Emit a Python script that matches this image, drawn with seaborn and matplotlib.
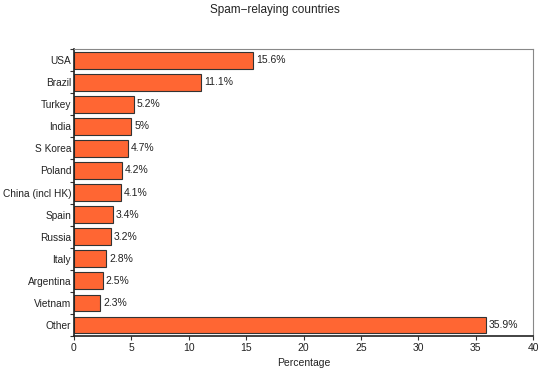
import numpy as np
import pandas as pd
import matplotlib
matplotlib.use("Agg")
import matplotlib.pyplot as plt
import seaborn as sns

countries = ["USA", "Brazil", "Turkey", "India", "S Korea", "Poland", "China (incl HK)",
             "Spain", "Russia", "Italy", "Argentina", "Vietnam", "Other"]
values = [15.6, 11.1, 5.2, 5.0, 4.7, 4.2, 4.1, 3.4, 3.2, 2.8, 2.5, 2.3, 35.9]
labels = ["15.6%", "11.1%", "5.2%", "5%", "4.7%", "4.2%", "4.1%",
          "3.4%", "3.2%", "2.8%", "2.5%", "2.3%", "35.9%"]
xticks = [0, 5, 10, 15, 20, 25, 30, 35, 40]

df = pd.DataFrame({"country": countries, "pct": values})

sns.set_style("ticks")
plt.rcParams["font.family"] = ["Liberation Sans", "DejaVu Sans"]

fig = plt.figure(figsize=(5.5, 3.75), dpi=100)
ax = fig.add_axes([0.1345, 0.104, 0.835, 0.765])

sns.barplot(data=df, y="country", x="pct", color="#ff6633", saturation=1,
            edgecolor="#333333", linewidth=0.8, width=0.76, ax=ax)

for i, (v, lab) in enumerate(zip(values, labels)):
    ax.text(v + 0.25, i, lab, va="center", ha="left", fontsize=7.5, color="#222222")

ax.set_xlim(0, 40)
ax.set_ylim(len(countries) - 0.5, -0.5)
ax.set_xticks(xticks)
ax.set_xticklabels([str(t) for t in xticks], fontsize=7.5, color="#222222")
ax.set_yticks(range(len(countries)))
ax.set_yticklabels(countries, fontsize=7.3, color="#222222")
ax.set_yticks(np.arange(-0.5, len(countries), 1), minor=True)
ax.tick_params(axis="y", which="major", left=True, length=0, pad=2)
ax.tick_params(axis="y", which="minor", left=True, length=3, width=0.8, color="#333333")
ax.tick_params(axis="x", which="major", bottom=True, length=3, width=0.8, color="#333333", pad=2)
ax.tick_params(axis="x", which="minor", bottom=False)
ax.set_xlabel("Percentage", fontsize=7.5, color="#222222", labelpad=4)
ax.set_ylabel("")

for s in ["left", "bottom"]:
    ax.spines[s].set_visible(True)
    ax.spines[s].set_color("#222222")
    ax.spines[s].set_linewidth(1.2)
for s in ["right", "top"]:
    ax.spines[s].set_visible(True)
    ax.spines[s].set_color("#888888")
    ax.spines[s].set_linewidth(0.8)

fig.suptitle("Spam\u2212relaying countries", fontsize=8.5, y=0.988, color="#222222")

fig.savefig("out.png", dpi=100)
